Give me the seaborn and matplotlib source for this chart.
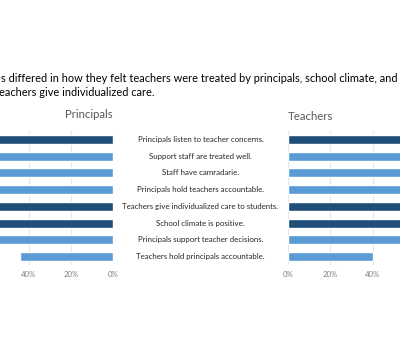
import matplotlib
matplotlib.use("Agg")
import matplotlib.pyplot as plt
import matplotlib.transforms as mtransforms
import seaborn as sns
import pandas as pd

categories = [
    "Principals listen to teacher concerns.",
    "Support staff are treated well.",
    "Staff have camradarie.",
    "Principals hold teachers accountable.",
    "Teachers give individualized care to students.",
    "School climate is positive.",
    "Principals support teacher decisions.",
    "Teachers hold principals accountable.",
]
principals_pct = [95, 90, 86, 88, 92, 93, 89, 44]
teachers_pct = [72, 66, 61, 76, 86, 71, 66, 40]
highlight = [True, False, False, False, True, True, False, False]
tick_values = [0, 20, 40]
tick_labels = ["0%", "20%", "40%"]
title_line1 = "s differed in how they felt teachers were treated by principals, school climate, and the extent to which"
title_line2 = "teachers give individualized care."

DARK = "#1F4E79"
LIGHT = "#5B9BD5"
GRID = "#E6E6E6"
TICK = "#7F7F7F"
PANEL = "#595959"

sns.set_theme(style="white")
plt.rcParams["font.family"] = ["Lato", "DejaVu Sans"]

W, H = 400, 350
fig = plt.figure(figsize=(4, 3.5), dpi=100)

def px_axes(x0, x1, ytop, ybot):
    return fig.add_axes([x0 / W, 1 - ybot / H, (x1 - x0) / W, (ybot - ytop) / H])

df = pd.DataFrame({
    "category": categories,
    "principals": principals_pct,
    "teachers": teachers_pct,
    "group": ["dark" if h else "light" for h in highlight],
})
pal = {"dark": DARK, "light": LIGHT}

ax_l = px_axes(113 - 211, 113, 131, 265)
ax_r = px_axes(288, 288 + 212, 131, 265)

for ax, col in [(ax_l, "principals"), (ax_r, "teachers")]:
    sns.barplot(data=df, y="category", x=col, hue="group", palette=pal,
                order=categories, dodge=False, width=0.54, legend=False, ax=ax,
                saturation=1)
    ax.set_xlim(0, 100)
    ax.set_ylim(7.5, -0.5)
    ax.set_xticks(tick_values)
    ax.set_xticklabels(tick_labels, color=TICK, fontsize=5.6)
    ax.tick_params(axis="x", length=0, pad=4)
    ax.set_yticks([])
    ax.set_xlabel("")
    ax.set_ylabel("")
    ax.grid(axis="x", color=GRID, linewidth=0.8)
    ax.set_axisbelow(True)
    for s in ax.spines.values():
        s.set_visible(False)

ax_l.invert_xaxis()

# Category labels between the panels
trans = mtransforms.blended_transform_factory(fig.transFigure, ax_r.transData)
for i, c in enumerate(categories):
    fig.text(200.5 / W, i, c, transform=trans, ha="center", va="center",
             fontsize=5.7, color="#262626")

# Panel titles
fig.text(113 / W, 1 - 115 / H, "Principals", ha="right", va="center",
         fontsize=8.2, color=PANEL)
fig.text(288 / W, 1 - 116 / H, "Teachers", ha="left", va="center",
         fontsize=8.2, color=PANEL)

# Figure title (cropped)
fig.text(1 / W, 1 - 78 / H, title_line1, ha="left", va="center",
         fontsize=7.95, color="black")
fig.text(-4.7 / W, 1 - 93 / H, title_line2, ha="left", va="center",
         fontsize=7.95, color="black")

fig.savefig("out.png", dpi=100)
